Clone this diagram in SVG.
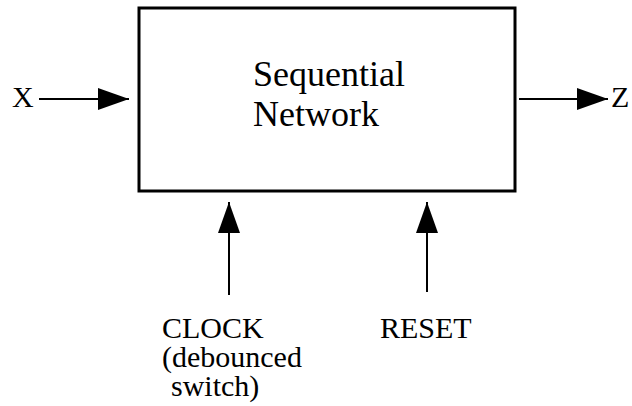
<svg xmlns="http://www.w3.org/2000/svg" width="632" height="406" viewBox="0 0 632 406">
<style>
.t{font-family:'Liberation Serif','Times New Roman',Times,serif;fill:#000}
.c{stroke:#000;stroke-width:2;fill:none}
</style>
<defs>
<marker id="ah" markerWidth="32" markerHeight="22" refX="31" refY="11" orient="auto" markerUnits="userSpaceOnUse">
<path d="M0,0 L31,11 L0,22 Z" fill="#000"/>
</marker>
</defs>
<rect width="632" height="406" fill="#fff"/>
<g id="network">
<rect x="139" y="8" width="376" height="183" fill="#fff" stroke="#000" stroke-width="3"/>
<text class="t" x="253" y="86" font-size="36">Sequential</text>
<text class="t" x="253" y="126" font-size="36">Network</text>
</g>
<g id="x"><text class="t" x="12" y="107" font-size="30">X</text></g>
<g id="z"><text class="t" x="611" y="107" font-size="30">Z</text></g>
<g id="clock">
<text class="t" x="162" y="338" font-size="30">CLOCK</text>
<text class="t" x="162" y="367" font-size="30">(debounced</text>
<text class="t" x="171" y="396" font-size="30">switch)</text>
</g>
<g id="reset"><text class="t" x="380" y="338" font-size="30">RESET</text></g>
<g id="connectors">
<line class="c" x1="39" y1="99" x2="129" y2="99" marker-end="url(#ah)"/>
<line class="c" x1="519" y1="99" x2="608" y2="99" marker-end="url(#ah)"/>
<line class="c" x1="229" y1="295" x2="229" y2="202" marker-end="url(#ah)"/>
<line class="c" x1="427" y1="292" x2="427" y2="202" marker-end="url(#ah)"/>
</g>
</svg>
